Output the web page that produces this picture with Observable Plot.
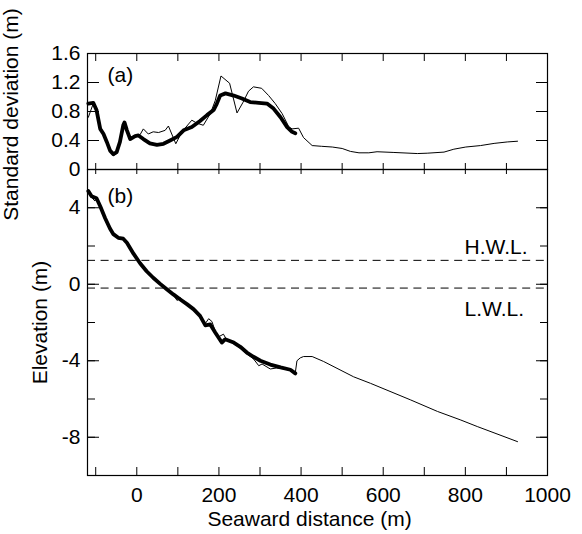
<!DOCTYPE html>
<html>
<head>
<meta charset="utf-8">
<script src="https://cdn.jsdelivr.net/npm/d3@7"></script>
<script src="https://cdn.jsdelivr.net/npm/@observablehq/plot@0.6"></script>
<style>
  html, body { margin: 0; padding: 0; background: white; }
  #chart { width: 582px; }
  #chart svg { display: block; }
</style>
</head>
<body>
<div id="chart"></div>
<script>
// ---------- data ----------
const distanceTicks = [-100, 0, 100, 200, 300, 400, 500, 600, 700, 800, 900, 1000];
const distanceLabels = [0, 200, 400, 600, 800, 1000];
const sdTicks = [0, 0.4, 0.8, 1.2, 1.6];
const elevTicks = [-8, -6, -4, -2, 0, 2, 4];
const elevLabels = [-8, -4, 0, 4];
const panelLabels = ["(a)", "(b)"];
const axisTitles = ["Standard deviation (m)", "Elevation (m)", "Seaward distance (m)"];
const levelNames = ["H.W.L.", "L.W.L."];
const levelValues = [1.25, -0.2];

// (a) standard deviation, thick line
const sdThickDist = [-118, -106, -98, -89, -81, -73, -65, -57, -49, -41, -33, -30, -24, -16, -4, 4, 16, 32, 49, 65, 81, 98, 114, 134, 154, 171, 187, 195, 203, 216, 236, 256, 276, 297, 317, 333, 350, 366, 378, 386];
const sdThickVal  = [0.91, 0.92, 0.82, 0.56, 0.49, 0.38, 0.26, 0.21, 0.24, 0.38, 0.61, 0.65, 0.54, 0.42, 0.46, 0.47, 0.42, 0.36, 0.34, 0.355, 0.40, 0.45, 0.54, 0.585, 0.67, 0.75, 0.82, 0.91, 1.02, 1.05, 1.02, 0.98, 0.93, 0.92, 0.91, 0.84, 0.72, 0.585, 0.52, 0.50];

// (a) standard deviation, thin line
const sdThinDist = [-118, -106, -98, -89, -81, -73, -65, -57, -49, -41, -33, -30, -24, -16, -4, 8, 16, 28, 40, 53, 69, 77, 95, 110, 134, 146, 162, 179, 191, 205, 226, 244, 258, 272, 284, 304, 321, 337, 354, 370, 378, 394, 406, 427, 450, 476, 500, 520, 541, 565, 585, 626, 683, 707, 748, 772, 801, 837, 870, 902, 927];
const sdThinVal  = [0.72, 0.91, 0.83, 0.57, 0.49, 0.37, 0.24, 0.19, 0.22, 0.38, 0.62, 0.66, 0.53, 0.44, 0.47, 0.48, 0.56, 0.49, 0.52, 0.51, 0.54, 0.60, 0.355, 0.52, 0.68, 0.64, 0.61, 0.77, 0.95, 1.29, 1.19, 0.78, 0.92, 1.08, 1.14, 1.12, 1.02, 0.91, 0.77, 0.59, 0.56, 0.57, 0.44, 0.33, 0.32, 0.31, 0.29, 0.25, 0.23, 0.23, 0.245, 0.235, 0.22, 0.225, 0.24, 0.28, 0.31, 0.33, 0.36, 0.38, 0.39];

// (b) elevation, thick line
const elevThickDist = [-118, -110, -98, -89, -77, -65, -57, -45, -33, -24, -8, 8, 24, 40, 57, 73, 89, 106, 122, 138, 154, 167, 179, 191, 207, 215, 236, 252, 268, 284, 301, 325, 350, 374, 386];
const elevThickVal  = [4.87, 4.6, 4.5, 4.08, 3.45, 2.9, 2.62, 2.43, 2.38, 2.17, 1.6, 1.1, 0.68, 0.34, 0.02, -0.26, -0.53, -0.8, -1.04, -1.3, -1.65, -2.15, -2.1, -2.52, -3.05, -2.88, -3.05, -3.27, -3.57, -3.79, -4.0, -4.2, -4.35, -4.47, -4.66];

// (b) elevation, thin line
const elevThinDist = [-118, -110, -102, -98, -89, -77, -65, -57, -45, -33, -24, -8, 8, 24, 40, 57, 73, 89, 98, 106, 122, 138, 154, 167, 175, 183, 191, 199, 211, 220, 236, 252, 268, 284, 297, 305, 325, 340, 358, 374, 386, 390, 398, 406, 427, 455, 528, 569, 667, 732, 789, 829, 927];
const elevThinVal  = [4.8, 4.55, 4.35, 4.5, 4.1, 3.45, 2.9, 2.62, 2.43, 2.38, 2.17, 1.6, 1.1, 0.68, 0.34, 0.02, -0.26, -0.55, -0.85, -0.7, -1.08, -1.32, -1.7, -2.05, -1.8, -1.95, -2.45, -2.75, -2.61, -2.95, -3.1, -3.35, -3.65, -3.9, -4.26, -4.17, -4.43, -4.38, -4.42, -4.52, -4.62, -4.0, -3.85, -3.78, -3.78, -4.04, -4.84, -5.18, -6.05, -6.65, -7.10, -7.44, -8.23];

// ---------- tables ----------
const toTable = (ds, vs) => ds.map((d, i) => ({d, v: vs[i]}));
const sdThick = toTable(sdThickDist, sdThickVal);
const sdThin = toTable(sdThinDist, sdThinVal);
const elevThick = toTable(elevThickDist, elevThickVal);
const elevThin = toTable(elevThinDist, elevThinVal);

const FONT = '"Liberation Sans", Arial, Helvetica, sans-serif';
const FS = 21;
const svgStyle = {overflow: "visible", background: "transparent", fontFamily: FONT, fontSize: FS + "px", color: "black"};
const blank = () => "";
const xDomain = [-120, 1000];

const plotA = Plot.plot({
  width: 582, height: 169,
  marginTop: 53, marginBottom: 0, marginLeft: 87, marginRight: 35,
  style: svgStyle,
  x: {domain: xDomain, label: null},
  y: {domain: [0, 1.6], label: null},
  marks: [
    Plot.line(sdThin, {x: "d", y: "v", stroke: "black", strokeWidth: 1}),
    Plot.line(sdThick, {x: "d", y: "v", stroke: "black", strokeWidth: 3.8, strokeLinejoin: "round", strokeLinecap: "round"}),
    Plot.frame({stroke: "black", strokeWidth: 1.2}),
    Plot.axisY({anchor: "left", ticks: sdTicks, tickSize: 0, tickPadding: 7, tickFormat: d => String(d), fontSize: FS, label: null}),
    Plot.axisY({anchor: "left", ticks: sdTicks, tickSize: 12, dx: 12, tickFormat: blank, label: null}),
    Plot.axisY({anchor: "right", ticks: sdTicks, tickSize: 12, dx: -12, tickFormat: blank, label: null}),
    Plot.axisX({anchor: "top", ticks: distanceTicks, tickSize: 7, dy: 7, tickFormat: blank, label: null}),
    Plot.axisX({anchor: "bottom", ticks: distanceTicks, tickSize: 6, dy: -6, tickFormat: blank, label: null}),
    Plot.text([panelLabels[0]], {text: d => d, frameAnchor: "top-left", dx: 20, dy: 22, lineAnchor: "middle", textAnchor: "start", fontSize: FS}),
    Plot.text([axisTitles[0]], {text: d => d, frameAnchor: "left", rotate: -90, dx: -84, dy: 3, textAnchor: "middle", lineAnchor: "top", fontSize: FS})
  ]
});

const plotB = Plot.plot({
  width: 582, height: 365,
  marginTop: 0, marginBottom: 59, marginLeft: 87, marginRight: 35,
  style: svgStyle,
  x: {domain: xDomain, label: null},
  y: {domain: [-10, 6], label: null},
  marks: [
    Plot.ruleY(levelValues, {stroke: "black", strokeWidth: 1, strokeDasharray: "8,5.6"}),
    Plot.line(elevThin, {x: "d", y: "v", stroke: "black", strokeWidth: 1}),
    Plot.line(elevThick, {x: "d", y: "v", stroke: "black", strokeWidth: 3.8, strokeLinejoin: "round", strokeLinecap: "round"}),
    Plot.frame({stroke: "black", strokeWidth: 1.2}),
    Plot.axisY({anchor: "left", ticks: elevLabels, tickSize: 0, tickPadding: 7, tickFormat: d => String(d), fontSize: FS, label: null}),
    Plot.axisY({anchor: "left", ticks: elevTicks, tickSize: 8, dx: 8, tickFormat: blank, label: null}),
    Plot.axisY({anchor: "left", ticks: elevLabels, tickSize: 12, dx: 12, tickFormat: blank, label: null}),
    Plot.axisY({anchor: "right", ticks: elevTicks, tickSize: 8, dx: -8, tickFormat: blank, label: null}),
    Plot.axisY({anchor: "right", ticks: elevLabels, tickSize: 12, dx: -12, tickFormat: blank, label: null}),
    Plot.axisX({anchor: "bottom", ticks: distanceLabels, tickSize: 0, tickPadding: 12, tickFormat: d => String(d), fontSize: FS, label: null}),
    Plot.axisX({anchor: "bottom", ticks: distanceTicks, tickSize: 8, dy: -8, tickFormat: blank, label: null}),
    Plot.axisX({anchor: "top", ticks: distanceTicks, tickSize: 4, dy: 4, tickFormat: blank, label: null}),
    Plot.text([panelLabels[1]], {text: d => d, frameAnchor: "top-left", dx: 20, dy: 27, lineAnchor: "middle", textAnchor: "start", fontSize: FS}),
    Plot.text([levelValues[0]], {y: d => d, text: () => levelNames[0], frameAnchor: "right", dx: -83, dy: -6, textAnchor: "start", lineAnchor: "bottom", fontSize: FS}),
    Plot.text([levelValues[1]], {y: d => d, text: () => levelNames[1], frameAnchor: "right", dx: -83, dy: 13, textAnchor: "start", lineAnchor: "top", fontSize: FS}),
    Plot.text([axisTitles[1]], {text: d => d, frameAnchor: "left", rotate: -90, dx: -55, textAnchor: "middle", lineAnchor: "top", fontSize: FS}),
    Plot.text([axisTitles[2]], {text: d => d, frameAnchor: "bottom", dx: -8, dy: 36, textAnchor: "middle", lineAnchor: "top", fontSize: FS})
  ]
});

const chart = document.getElementById("chart");
chart.appendChild(plotA);
chart.appendChild(plotB);
</script>
</body>
</html>
